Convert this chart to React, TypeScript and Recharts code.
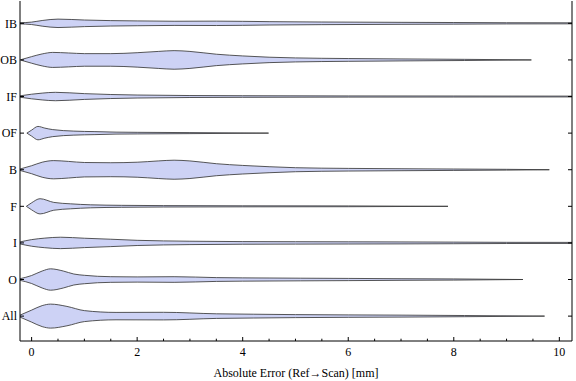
import { ComposedChart, Area, XAxis, YAxis } from "recharts";

document.body.style.margin = "0";

// categories from bottom (position 0) to top (position 8)
const categories = ["All", "O", "I", "F", "B", "OF", "IF", "OB", "IB"];
const xTicks = [0, 0.5, 1, 1.5, 2, 2.5, 3, 3.5, 4, 4.5, 5, 5.5, 6, 6.5, 7, 7.5, 8, 8.5, 9, 9.5, 10];

// violin profiles: error sample points [mm] and half-width of the density (in category units)
const ibError = [-0.22, 0, 0.2, 0.5, 1.0, 1.5, 2, 2.7, 3.5, 4.5, 5.5, 7, 8, 9, 10.24];
const ibDensity = [0.016, 0.033, 0.077, 0.115, 0.09, 0.074, 0.066, 0.057, 0.06, 0.046, 0.036, 0.027, 0.022, 0.016, 0.014];

const obError = [-0.2, 0, 0.2, 0.4, 0.7, 1.0, 1.5, 2.0, 2.4, 2.7, 3.0, 3.5, 4.0, 4.5, 5.0, 6, 7, 8.2, 9.47];
const obDensity = [0.008, 0.09, 0.164, 0.205, 0.19, 0.172, 0.172, 0.197, 0.232, 0.254, 0.232, 0.156, 0.109, 0.074, 0.055, 0.038, 0.027, 0.016, 0];

const ifError = [-0.22, 0, 0.2, 0.45, 1.0, 1.5, 2, 3, 4, 6, 8, 10.24];
const ifDensity = [0.019, 0.063, 0.093, 0.115, 0.079, 0.055, 0.041, 0.027, 0.022, 0.016, 0.014, 0.011];

const ofError = [-0.09, 0, 0.12, 0.25, 0.4, 0.8, 1.2, 1.6, 2, 3, 4.49];
const ofDensity = [0, 0.082, 0.183, 0.137, 0.096, 0.055, 0.041, 0.027, 0.022, 0.014, 0];

const bError = [-0.22, 0, 0.2, 0.42, 0.7, 1.0, 1.5, 2.0, 2.4, 2.7, 3.0, 3.5, 4.0, 4.5, 5.0, 6, 7, 8, 9, 9.81];
const bDensity = [0.019, 0.109, 0.205, 0.249, 0.227, 0.197, 0.191, 0.205, 0.24, 0.26, 0.24, 0.164, 0.117, 0.082, 0.055, 0.036, 0.027, 0.019, 0.011, 0];

const fError = [-0.1, 0, 0.16, 0.42, 0.74, 1.12, 1.7, 2.5, 4, 6, 7.89];
const fDensity = [0, 0.096, 0.208, 0.107, 0.068, 0.041, 0.027, 0.019, 0.014, 0.011, 0];

const iError = [-0.22, 0, 0.25, 0.55, 1.0, 1.5, 2, 2.5, 3, 4, 5, 6, 7, 8, 9, 10.24];
const iDensity = [0.027, 0.09, 0.131, 0.156, 0.128, 0.101, 0.071, 0.055, 0.046, 0.036, 0.033, 0.03, 0.027, 0.022, 0.016, 0.014];

const oError = [-0.22, 0, 0.2, 0.36, 0.6, 0.8, 1.0, 1.5, 2, 2.7, 3.5, 4.5, 5.1, 6, 7, 8, 9.31];
const oDensity = [0.022, 0.109, 0.232, 0.292, 0.232, 0.15, 0.115, 0.077, 0.071, 0.077, 0.052, 0.041, 0.036, 0.03, 0.022, 0.016, 0];

const allError = [-0.22, 0, 0.2, 0.36, 0.67, 1.0, 1.6, 2.5, 3.5, 4.2, 5, 6, 7, 8.2, 9.72];
const allDensity = [0.027, 0.164, 0.287, 0.328, 0.265, 0.15, 0.101, 0.104, 0.063, 0.052, 0.041, 0.033, 0.027, 0.016, 0];

const violins = [
  { name: "IB", error: ibError, density: ibDensity },
  { name: "OB", error: obError, density: obDensity },
  { name: "IF", error: ifError, density: ifDensity },
  { name: "OF", error: ofError, density: ofDensity },
  { name: "B", error: bError, density: bDensity },
  { name: "F", error: fError, density: fDensity },
  { name: "I", error: iError, density: iDensity },
  { name: "O", error: oError, density: oDensity },
  { name: "All", error: allError, density: allDensity },
];

const series = violins.map((v) => {
  const pos = categories.indexOf(v.name);
  return {
    name: v.name,
    rows: v.error.map((e, i) => ({ error: e, band: [pos - v.density[i], pos + v.density[i]] })),
  };
});

const FONT = "'Liberation Serif', 'Times New Roman', serif";
const X_DOMAIN = [-0.22, 10.24];
const Y_DOMAIN = [-0.68, 8.61];
const catTicks = categories.map((_, i) => i);

const isMajor = (v: number) => Math.abs(v % 2) < 1e-9;

const BottomTick = ({ x, y, payload }: any) => {
  const v = payload.value;
  return (
    <g>
      <line x1={x} x2={x} y1={y} y2={y - (isMajor(v) ? 4 : 2.3)} stroke="#000" />
      {isMajor(v) && (
        <text x={x} y={y + 14.5} textAnchor="middle" fontSize={12} fontFamily={FONT} fill="#000">
          {v}
        </text>
      )}
    </g>
  );
};

const TopTick = ({ x, y, payload }: any) => (
  <line x1={x} x2={x} y1={y} y2={y + (isMajor(payload.value) ? 4 : 2.3)} stroke="#000" />
);

const LeftTick = ({ x, y, payload }: any) => (
  <g>
    <line x1={x} x2={x + 4} y1={y} y2={y} stroke="#000" />
    <text x={x - 3} y={y + 4.2} textAnchor="end" fontSize={12} fontFamily={FONT} fill="#000">
      {categories[payload.value]}
    </text>
  </g>
);

const RightTick = ({ x, y }: any) => <line x1={x} x2={x - 4} y1={y} y2={y} stroke="#000" />;

export default function App() {
  return (
    <div style={{ width: 576, height: 381, background: "#fff" }}>
      <ComposedChart width={576} height={381} margin={{ top: 1, right: 0, bottom: 0, left: 0 }}>
        <XAxis
          xAxisId="bottom"
          dataKey="error"
          type="number"
          domain={X_DOMAIN}
          allowDataOverflow
          ticks={xTicks}
          interval={0}
          tick={<BottomTick />}
          tickLine={false}
          tickSize={0}
          tickMargin={0}
          axisLine={{ stroke: "#000" }}
          height={40}
          label={{
            value: "Absolute Error (Ref\u2192Scan) [mm]",
            position: "insideBottom",
            offset: 4,
            fontSize: 12,
            fontFamily: FONT,
            fill: "#000",
          }}
        />
        <XAxis
          xAxisId="top"
          orientation="top"
          type="number"
          domain={X_DOMAIN}
          allowDataOverflow
          ticks={xTicks}
          interval={0}
          tick={<TopTick />}
          tickLine={false}
          tickSize={0}
          tickMargin={0}
          axisLine={{ stroke: "#000" }}
          height={0}
        />
        <YAxis
          yAxisId="left"
          type="number"
          domain={Y_DOMAIN}
          allowDataOverflow
          ticks={catTicks}
          interval={0}
          tick={<LeftTick />}
          tickLine={false}
          tickSize={0}
          tickMargin={0}
          axisLine={{ stroke: "#000" }}
          width={20}
        />
        <YAxis
          yAxisId="right"
          orientation="right"
          type="number"
          domain={Y_DOMAIN}
          allowDataOverflow
          ticks={catTicks}
          interval={0}
          tick={<RightTick />}
          tickLine={false}
          tickSize={0}
          tickMargin={0}
          axisLine={{ stroke: "#000" }}
          width={4}
        />
        {series.map((s) => (
          <Area
            key={s.name}
            name={s.name}
            data={s.rows}
            xAxisId="bottom"
            yAxisId="left"
            dataKey="band"
            type="monotone"
            stroke="#3a3a3a"
            strokeOpacity={0.85}
            strokeWidth={1}
            fill="#cdd2f5"
            fillOpacity={1}
            isAnimationActive={false}
            dot={false}
            activeDot={false}
          />
        ))}
      </ComposedChart>
    </div>
  );
}
